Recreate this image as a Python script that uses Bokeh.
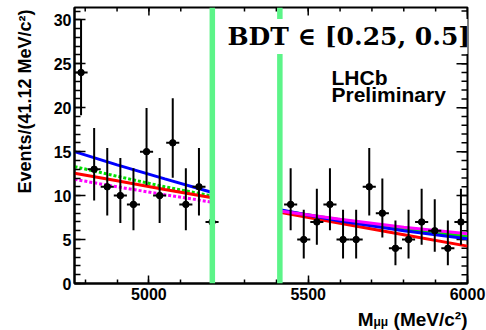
import math
from bokeh.plotting import figure
from bokeh.layouts import column
from bokeh.models import Range1d, FixedTicker, Span, Label, ColumnDataSource, Title
from bokeh.embed import file_html
from bokeh.resources import INLINE

# ---------------- data ----------------
x_min = 4766.4
x_max = 6000.0
bin_width = 41.12
y_max = 31.4

bins_left = [0, 1, 2, 3, 4, 5, 6, 7, 8, 9, 10]
counts_left = [24, 13, 11, 10, 9, 15, 10, 16, 9, 11, 7]
bins_right = [16, 17, 18, 19, 20, 21, 22, 23, 24, 25, 26, 27, 28, 29]
counts_right = [9, 5, 7, 9, 5, 5, 11, 8, 4, 5, 7, 6, 4, 7]

blind_lo = 5199.0
blind_hi = 5411.0

curve_x_left = [4766.4, 4900.0, 5050.0, 5199.0]
curve_x_right = [5411.0, 5600.0, 5800.0, 6000.0]
blue_left = [15.0, 13.5, 11.9, 10.35]
blue_right = [8.4, 7.1, 6.0, 5.1]
red_left = [12.55, 11.7, 10.7, 9.75]
red_right = [8.1, 6.85, 5.55, 4.25]
green_left = [13.3, 12.2, 11.0, 9.95]
green_right = [8.3, 7.25, 6.25, 5.35]
magenta_left = [11.85, 11.0, 10.1, 9.25]
magenta_right = [8.25, 7.3, 6.4, 5.65]

x_major = [5000, 5500, 6000]
x_minor = list(range(4800, 6001, 100))
y_major = [0, 5, 10, 15, 20, 25, 30]
y_minor = list(range(0, 32))

# ---------------- Poisson (Garwood) error bars ----------------
ALPHA = 0.158655


def pcdf(n, lam):
    term = math.exp(-lam)
    s = term
    for k in range(1, n + 1):
        term *= lam / k
        s += term
    return s


def bisect(f, lo, hi):
    for _ in range(200):
        mid = 0.5 * (lo + hi)
        if f(lo) * f(mid) <= 0:
            hi = mid
        else:
            lo = mid
    return 0.5 * (lo + hi)


def pois_low(n):
    if n == 0:
        return 0.0
    return bisect(lambda L: 1 - pcdf(n - 1, L) - ALPHA, 0.0, float(n))


def pois_up(n):
    return bisect(lambda U: pcdf(n, U) - ALPHA, float(n), n + 6 * math.sqrt(n) + 6)


bins = bins_left + bins_right
counts = counts_left + counts_right
centers = [x_min + (b + 0.5) * bin_width for b in bins]
src = ColumnDataSource(dict(
    x=centers,
    y=counts,
    x0=[c - bin_width / 2 for c in centers],
    x1=[c + bin_width / 2 for c in centers],
    lo=[pois_low(n) for n in counts],
    hi=[pois_up(n) for n in counts],
))

# ---------------- main figure ----------------
xr = Range1d(x_min, x_max)
p = figure(width=486, height=310, x_range=xr, y_range=Range1d(0, y_max),
           output_backend="svg", toolbar_location=None)
p.min_border_left = 74
p.min_border_right = 19
p.min_border_top = 7
p.min_border_bottom = 27
p.grid.visible = False
p.outline_line_color = "black"
p.outline_line_width = 2
p.background_fill_color = "white"
p.border_fill_color = "white"


def style_axis(ax, major, minor, tin, tmin):
    ax.ticker = FixedTicker(ticks=major, minor_ticks=minor)
    ax.axis_line_color = "black"
    ax.axis_line_width = 2
    ax.major_tick_in = tin
    ax.major_tick_out = 0
    ax.minor_tick_in = tmin
    ax.minor_tick_out = 0
    ax.major_tick_line_width = 1.5
    ax.minor_tick_line_width = 1.5
    ax.major_label_text_font = "Liberation Sans"
    ax.major_label_text_font_style = "bold"
    ax.major_label_text_font_size = "16px"
    ax.major_label_text_color = "black"
    ax.major_label_standoff = 4


style_axis(p.xaxis[0], x_major, x_minor, 8, 4)
style_axis(p.yaxis[0], y_major, y_minor, 11, 6)
p.yaxis[0].major_label_standoff = 3

# y axis title (top aligned, as in the reference)
p.add_layout(Title(text="Events/(41.12 MeV/c²)", align="right", vertical_align="top",
                   offset=2, standoff=28,
                   text_font="Liberation Sans", text_font_style="bold", text_font_size="18px",
                   text_color="black"), "left")

# mirrored ticks on the top and right edges (half of each dash is clipped by the frame)
p.scatter(x_major, [y_max] * len(x_major), marker="dash", angle=math.pi / 2, size=16,
          line_color="black", line_width=1.5)
p.scatter(x_minor, [y_max] * len(x_minor), marker="dash", angle=math.pi / 2, size=8,
          line_color="black", line_width=1.5)
p.scatter([x_max] * len(y_major), y_major, marker="dash", size=22,
          line_color="black", line_width=1.5)
p.scatter([x_max] * len(y_minor), y_minor, marker="dash", size=12,
          line_color="black", line_width=1.5)

# curves
p.line(curve_x_left, green_left, line_color="#00e000", line_width=3, line_dash="3 2")
p.line(curve_x_right, green_right, line_color="#00e000", line_width=3)
p.line(curve_x_left, red_left, line_color="#ff0000", line_width=3)
p.line(curve_x_right, red_right, line_color="#ff0000", line_width=3)
p.line(curve_x_left, blue_left, line_color="#0000ff", line_width=3)
p.line(curve_x_right, blue_right, line_color="#0000ff", line_width=3)
p.line(curve_x_left, magenta_left, line_color="#ff00ff", line_width=3, line_dash="3 2")
p.line(curve_x_right, magenta_right, line_color="#ff00ff", line_width=3)

# data points
p.segment(x0="x", y0="lo", x1="x", y1="hi", source=src, line_color="black", line_width=2)
p.segment(x0="x0", y0="y", x1="x1", y1="y", source=src, line_color="black", line_width=2)
p.scatter(x="x", y="y", source=src, size=6.5, marker="circle", fill_color="black", line_color="black")

# blinded region lines
for loc in (blind_lo, blind_hi):
    p.add_layout(Span(location=loc, dimension="height", line_color="#5cf488", line_width=5.5))

# texts inside the frame
p.add_layout(Label(x=5237, y=28.1, text="BDT ∈ [0.25, 0.5]",
                   text_font="DejaVu Serif", text_font_style="bold", text_font_size="25px",
                   text_align="left", text_baseline="alphabetic", text_color="black",
                   background_fill_color="white", padding=3))
p.add_layout(Label(x=5573, y=23.4, text="LHCb",
                   text_font="Liberation Sans", text_font_style="bold", text_font_size="21px",
                   text_align="left", text_baseline="alphabetic", text_color="black"))
p.add_layout(Label(x=5573, y=21.5, text="Preliminary",
                   text_font="Liberation Sans", text_font_style="bold", text_font_size="21px",
                   text_align="left", text_baseline="alphabetic", text_color="black"))

# x axis title strip below the plot: M_{μμ} (MeV/c²), sharing the x range
xlab = figure(width=486, height=20, x_range=xr, y_range=Range1d(0, 20),
              output_backend="svg", toolbar_location=None,
              x_axis_location=None, y_axis_location=None, min_border=0)
xlab.grid.visible = False
xlab.outline_line_color = None
xlab.background_fill_color = "white"
xlab.border_fill_color = "white"
xlab.add_layout(Label(x=x_max, y=11, text="(MeV/c²)",
                      text_font="Liberation Sans", text_font_style="bold", text_font_size="19px",
                      text_align="right", text_baseline="alphabetic", text_color="black"))
xlab.add_layout(Label(x=5751, y=8.5, text="μμ",
                      text_font="Liberation Sans", text_font_style="bold", text_font_size="12px",
                      text_align="right", text_baseline="alphabetic", text_color="black"))
xlab.add_layout(Label(x=5705, y=11, text="M",
                      text_font="Liberation Sans", text_font_style="bold", text_font_size="19px",
                      text_align="right", text_baseline="alphabetic", text_color="black"))

layout = column(p, xlab, spacing=0)
open("out.html", "w").write(file_html(layout, INLINE))
